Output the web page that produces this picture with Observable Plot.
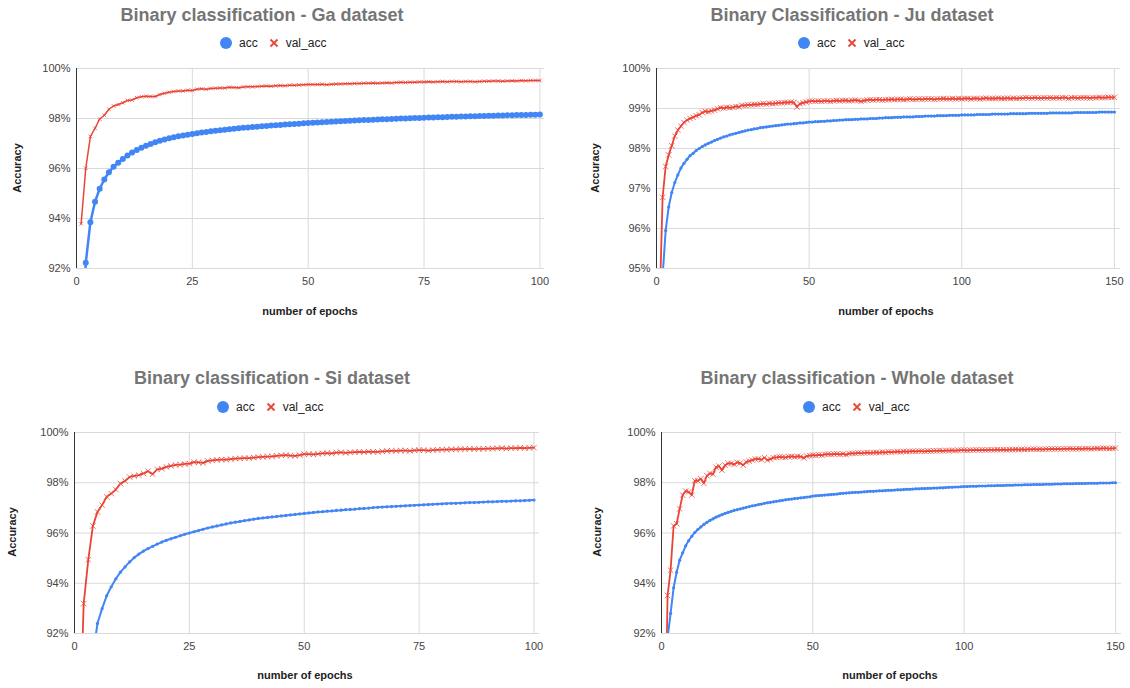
<!DOCTYPE html>
<html>
<head>
<meta charset="utf-8">
<script src="https://cdn.jsdelivr.net/npm/d3@7"></script>
<script src="https://cdn.jsdelivr.net/npm/@observablehq/plot@0.6"></script>
<style>
  html, body { margin: 0; padding: 0; background: #fff; }
  #root { position: relative; width: 1130px; height: 688px; overflow: hidden; font-family: "Liberation Sans", Arial, sans-serif; }
  .abs { position: absolute; white-space: nowrap; }
  .title { font-size: 18px; font-weight: bold; color: #757575; }
  .legend { font-size: 12px; color: #222; display: flex; align-items: center; }
  .axlabel { font-size: 11px; font-weight: bold; color: #222; }
  svg.plot { position: absolute; }
</style>
</head>
<body>
<div id="root"></div>
<script>
// ---------------- data (values in %) ----------------
const xTicks100 = [0, 25, 50, 75, 100];
const xTicks150 = [0, 50, 100, 150];
const yTicks92 = [92, 94, 96, 98, 100];
const yTicks95 = [95, 96, 97, 98, 99, 100];

const gaAcc = [88.0,92.23,93.85,94.67,95.19,95.56,95.85,96.07,96.23,96.38,
96.52,96.64,96.74,96.83,96.91,96.98,97.05,97.11,97.16,97.21,
97.25,97.29,97.32,97.35,97.38,97.41,97.44,97.46,97.49,97.51,
97.53,97.55,97.57,97.59,97.61,97.63,97.64,97.66,97.67,97.69,
97.70,97.72,97.73,97.74,97.76,97.77,97.78,97.79,97.81,97.82,
97.83,97.84,97.85,97.86,97.87,97.88,97.89,97.90,97.91,97.92,
97.93,97.94,97.94,97.95,97.96,97.97,97.97,97.98,97.99,98.00,
98.00,98.01,98.02,98.02,98.03,98.04,98.04,98.05,98.05,98.06,
98.07,98.07,98.08,98.08,98.09,98.09,98.10,98.10,98.11,98.11,
98.12,98.12,98.13,98.13,98.14,98.14,98.14,98.15,98.15,98.16];

const gaVal = [93.79,96.01,97.28,97.61,97.98,98.13,98.37,98.50,98.56,98.63,
98.72,98.74,98.83,98.87,98.89,98.88,98.88,98.96,99.01,99.05,
99.08,99.10,99.10,99.13,99.12,99.17,99.19,99.17,99.20,99.21,
99.22,99.22,99.25,99.24,99.23,99.26,99.27,99.27,99.28,99.29,
99.30,99.29,99.31,99.32,99.31,99.33,99.33,99.34,99.35,99.36,
99.36,99.36,99.37,99.35,99.37,99.38,99.38,99.39,99.39,99.40,
99.40,99.41,99.41,99.42,99.41,99.42,99.43,99.42,99.44,99.45,
99.44,99.45,99.45,99.46,99.46,99.47,99.46,99.47,99.48,99.47,
99.48,99.48,99.47,99.48,99.48,99.47,99.48,99.49,99.49,99.50,
99.50,99.49,99.50,99.51,99.50,99.52,99.51,99.52,99.52,99.52];

const juAcc = [92.5,94.8,95.95,96.54,96.90,97.15,97.34,97.51,97.63,97.73,
97.82,97.88,97.95,98.00,98.05,98.09,98.13,98.16,98.20,98.23,
98.26,98.29,98.31,98.34,98.36,98.38,98.40,98.42,98.44,98.46,
98.47,98.49,98.50,98.52,98.53,98.54,98.55,98.56,98.57,98.58,
98.59,98.60,98.61,98.61,98.62,98.63,98.64,98.64,98.65,98.66,
98.66,98.67,98.67,98.68,98.68,98.69,98.69,98.70,98.70,98.71,
98.71,98.72,98.72,98.72,98.73,98.73,98.74,98.74,98.74,98.75,
98.75,98.75,98.76,98.76,98.77,98.77,98.77,98.78,98.78,98.78,
98.79,98.79,98.79,98.79,98.80,98.80,98.80,98.81,98.81,98.81,
98.81,98.82,98.82,98.82,98.82,98.83,98.83,98.83,98.83,98.84,
98.84,98.84,98.84,98.84,98.85,98.85,98.85,98.85,98.85,98.86,
98.86,98.86,98.86,98.86,98.86,98.87,98.87,98.87,98.87,98.87,
98.87,98.88,98.88,98.88,98.88,98.88,98.88,98.88,98.89,98.89,
98.89,98.89,98.89,98.89,98.89,98.89,98.90,98.90,98.90,98.90,
98.90,98.90,98.90,98.90,98.91,98.91,98.91,98.91,98.91,98.91];

const juVal = [94.0,96.78,97.55,97.84,98.07,98.31,98.46,98.56,98.65,98.71,
98.75,98.78,98.82,98.84,98.90,98.93,98.92,98.94,98.96,98.99,
99.02,99.01,99.03,99.02,99.03,99.05,99.04,99.08,99.08,99.09,
99.09,99.10,99.10,99.11,99.12,99.11,99.13,99.12,99.13,99.14,
99.14,99.15,99.15,99.16,99.15,99.04,99.12,99.14,99.16,99.18,
99.19,99.18,99.19,99.18,99.19,99.19,99.18,99.19,99.20,99.19,
99.20,99.20,99.19,99.20,99.21,99.20,99.18,99.20,99.21,99.22,
99.21,99.22,99.22,99.21,99.22,99.22,99.23,99.22,99.23,99.23,
99.22,99.23,99.24,99.23,99.23,99.24,99.23,99.24,99.24,99.24,
99.23,99.24,99.24,99.25,99.24,99.24,99.25,99.24,99.25,99.24,
99.25,99.25,99.24,99.25,99.25,99.24,99.25,99.26,99.25,99.25,
99.25,99.26,99.25,99.25,99.26,99.25,99.26,99.25,99.26,99.26,
99.27,99.26,99.26,99.27,99.26,99.26,99.27,99.26,99.27,99.26,
99.27,99.26,99.27,99.27,99.25,99.27,99.27,99.26,99.27,99.27,
99.27,99.26,99.27,99.27,99.28,99.27,99.27,99.28,99.28,99.28];

const siAcc = [84.5,88.0,90.1,91.1,92.40,92.99,93.50,93.86,94.18,94.44,
94.65,94.85,95.02,95.16,95.28,95.38,95.47,95.56,95.64,95.71,
95.77,95.83,95.89,95.95,96.00,96.05,96.10,96.15,96.20,96.24,
96.28,96.32,96.36,96.40,96.43,96.46,96.49,96.52,96.55,96.58,
96.60,96.62,96.64,96.66,96.68,96.70,96.72,96.74,96.76,96.78,
96.80,96.82,96.84,96.85,96.87,96.88,96.90,96.91,96.93,96.94,
96.95,96.97,96.98,96.99,97.01,97.02,97.03,97.04,97.05,97.06,
97.07,97.08,97.09,97.10,97.11,97.12,97.13,97.14,97.15,97.16,
97.17,97.18,97.18,97.19,97.20,97.21,97.21,97.22,97.23,97.24,
97.24,97.25,97.26,97.26,97.27,97.28,97.28,97.29,97.30,97.31];

const siVal = [87.2,93.19,94.94,96.28,96.84,97.11,97.44,97.57,97.73,97.97,
98.07,98.23,98.27,98.30,98.37,98.46,98.34,98.53,98.56,98.63,
98.67,98.71,98.72,98.75,98.76,98.82,98.81,98.79,98.87,98.89,
98.91,98.92,98.92,98.94,98.96,98.97,98.98,98.98,99.00,99.02,
99.03,99.04,99.05,99.07,99.09,99.10,99.08,99.07,99.10,99.14,
99.14,99.13,99.15,99.17,99.18,99.17,99.20,99.21,99.19,99.21,
99.22,99.23,99.22,99.24,99.23,99.23,99.25,99.26,99.27,99.27,
99.28,99.28,99.27,99.29,99.30,99.30,99.28,99.30,99.31,99.32,
99.32,99.33,99.33,99.34,99.34,99.35,99.34,99.35,99.35,99.36,
99.36,99.37,99.38,99.36,99.38,99.38,99.39,99.38,99.39,99.40];

const wholeAcc = [89.0,91.8,92.80,93.82,94.44,94.92,95.21,95.49,95.70,95.87,
96.02,96.14,96.24,96.34,96.42,96.50,96.56,96.63,96.68,96.73,
96.78,96.82,96.86,96.90,96.93,96.96,96.99,97.02,97.05,97.08,
97.10,97.13,97.15,97.18,97.20,97.22,97.24,97.26,97.28,97.30,
97.32,97.34,97.35,97.37,97.38,97.40,97.41,97.43,97.44,97.47,
97.48,97.49,97.50,97.51,97.52,97.53,97.54,97.55,97.57,97.58,
97.59,97.60,97.61,97.62,97.62,97.63,97.64,97.65,97.66,97.66,
97.67,97.68,97.68,97.69,97.70,97.70,97.71,97.72,97.72,97.73,
97.74,97.74,97.75,97.76,97.76,97.77,97.77,97.78,97.78,97.79,
97.79,97.80,97.80,97.81,97.82,97.82,97.83,97.83,97.84,97.85,
97.85,97.86,97.86,97.86,97.87,97.87,97.87,97.88,97.88,97.88,
97.89,97.89,97.89,97.90,97.90,97.90,97.91,97.91,97.91,97.92,
97.92,97.92,97.93,97.93,97.93,97.93,97.94,97.94,97.94,97.95,
97.95,97.95,97.96,97.96,97.96,97.96,97.97,97.97,97.97,97.97,
97.98,97.98,97.98,97.98,97.99,97.99,97.99,97.99,98.00,98.00];

const wholeVal = [86.0,93.51,94.52,96.28,96.37,96.96,97.51,97.67,97.64,97.51,
98.08,98.08,98.16,97.98,98.28,98.37,98.34,98.62,98.66,98.50,
98.70,98.77,98.77,98.73,98.81,98.78,98.70,98.83,98.86,98.90,
98.94,98.95,98.92,99.00,98.90,98.94,99.00,99.01,99.03,99.02,
99.01,99.04,99.05,99.03,99.05,99.04,98.99,99.06,99.08,99.10,
99.09,99.11,99.10,99.13,99.14,99.13,99.14,99.15,99.13,99.15,
99.12,99.16,99.17,99.17,99.19,99.18,99.19,99.20,99.19,99.20,
99.21,99.20,99.22,99.21,99.23,99.22,99.23,99.24,99.23,99.25,
99.24,99.25,99.26,99.25,99.26,99.26,99.25,99.27,99.26,99.27,
99.27,99.28,99.27,99.28,99.28,99.29,99.28,99.29,99.30,99.30,
99.29,99.30,99.30,99.31,99.30,99.31,99.30,99.31,99.31,99.31,
99.32,99.31,99.32,99.31,99.32,99.32,99.33,99.32,99.33,99.32,
99.33,99.33,99.34,99.33,99.34,99.33,99.34,99.34,99.35,99.34,
99.35,99.34,99.35,99.35,99.36,99.35,99.35,99.36,99.35,99.36,
99.36,99.35,99.36,99.37,99.36,99.37,99.37,99.36,99.37,99.38];

const titles = ["Binary classification - Ga dataset", "Binary Classification - Ju dataset",
                "Binary classification - Si dataset", "Binary classification - Whole dataset"];
const seriesNames = ["acc", "val_acc"];

// ---------------- layout & style ----------------
const BLUE = "#4285F4", RED = "#EA4335", GRID = "#d9d9d9";
const root = document.getElementById("root");

function place(cls, text, cx, cy, rotate) {
  const d = document.createElement("div");
  d.className = "abs " + cls;
  d.textContent = text;
  d.style.left = cx + "px";
  d.style.top = cy + "px";
  d.style.transform = "translate(-50%,-50%)" + (rotate ? " rotate(-90deg)" : "");
  root.appendChild(d);
  return d;
}

function legend(x, y) {
  const d = document.createElement("div");
  d.className = "abs legend";
  d.style.left = x + "px";
  d.style.top = (y - 8) + "px";
  d.style.height = "16px";
  d.innerHTML =
    `<svg width="14" height="14" style="margin-right:6px"><circle cx="7" cy="7" r="6" fill="${BLUE}"/></svg>` +
    `<span style="margin-right:10px">${seriesNames[0]}</span>` +
    `<svg width="12" height="12" style="margin-right:6px"><path d="M2.5,2.5L9.5,9.5M9.5,2.5L2.5,9.5" stroke="${RED}" stroke-width="1.8"/></svg>` +
    `<span>${seriesNames[1]}</span>`;
  root.appendChild(d);
}

function toRows(arr) { return arr.map((v, i) => ({epoch: i + 1, value: v})); }

const panels = [
  {acc: gaAcc, val: gaVal, title: titles[0], xTicks: xTicks100, yTicks: yTicks92, xMax: 101,
   box: {left: 0, top: 50, width: 565, height: 280, ml: 76, mr: 21, mt: 18, mb: 62},
   accR: 3, accW: 2.5, valR: 1.8, valW: 1.5,
   titlePos: [262, 15], legendPos: [219, 43], yLab: [17, 168], xLab: [310, 311]},
  {acc: juAcc, val: juVal, title: titles[1], xTicks: xTicks150, yTicks: yTicks95, xMax: 152,
   box: {left: 565, top: 50, width: 565, height: 280, ml: 91, mr: 10, mt: 18, mb: 62},
   accR: 1.6, accW: 2, valR: 2.6, valW: 1.8,
   titlePos: [852, 15], legendPos: [797, 43], yLab: [595, 168], xLab: [886, 311]},
  {acc: siAcc, val: siVal, title: titles[2], xTicks: xTicks100, yTicks: yTicks92, xMax: 101.2,
   box: {left: 0, top: 414, width: 565, height: 274, ml: 74, mr: 26, mt: 18, mb: 55},
   accR: 1.6, accW: 2, valR: 2.6, valW: 1.8,
   titlePos: [272, 378], legendPos: [216, 407], yLab: [12, 532], xLab: [305, 675]},
  {acc: wholeAcc, val: wholeVal, title: titles[3], xTicks: xTicks150, yTicks: yTicks92, xMax: 152,
   box: {left: 565, top: 414, width: 565, height: 274, ml: 96, mr: 9, mt: 18, mb: 55},
   accR: 1.6, accW: 2, valR: 2.6, valW: 1.8,
   titlePos: [857, 378], legendPos: [802, 407], yLab: [597, 532], xLab: [890, 675]}
];

for (const p of panels) {
  const b = p.box;
  const accRows = toRows(p.acc), valRows = toRows(p.val);
  const yDomain = [p.yTicks[0], p.yTicks[p.yTicks.length - 1]];
  const chart = Plot.plot({
    width: b.width, height: b.height,
    marginLeft: b.ml, marginRight: b.mr, marginTop: b.mt, marginBottom: b.mb,
    style: {fontFamily: '"Liberation Sans", Arial, sans-serif', fontSize: "11px", color: "#444", background: "transparent", overflow: "visible"},
    x: {domain: [0, p.xMax], ticks: p.xTicks, tickSize: 0, tickPadding: 9, tickFormat: d => String(d), label: null},
    y: {domain: yDomain, ticks: p.yTicks, tickSize: 0, tickPadding: 6, tickFormat: d => d + "%", label: null},
    marks: [
      Plot.ruleY(p.yTicks, {stroke: GRID, strokeWidth: 1}),
      Plot.ruleX(p.xTicks.filter(t => t > 0), {stroke: GRID, strokeWidth: 1}),
      Plot.ruleX([0], {stroke: "#333", strokeWidth: 1}),
      Plot.line(valRows, {x: "epoch", y: "value", stroke: RED, strokeWidth: p.valW, clip: true}),
      Plot.dot(valRows, {x: "epoch", y: "value", symbol: "times", r: p.valR, stroke: RED, strokeWidth: 1, strokeOpacity: 0.75, clip: true}),
      Plot.line(accRows, {x: "epoch", y: "value", stroke: BLUE, strokeWidth: p.accW, clip: true}),
      Plot.dot(accRows, {x: "epoch", y: "value", r: p.accR, fill: BLUE, clip: true})
    ]
  });
  chart.classList.add("plot");
  chart.style.left = b.left + "px";
  chart.style.top = b.top + "px";
  root.appendChild(chart);

  place("title", p.title, p.titlePos[0], p.titlePos[1]);
  legend(p.legendPos[0], p.legendPos[1]);
  place("axlabel", "Accuracy", p.yLab[0], p.yLab[1], true);
  place("axlabel", "number of epochs", p.xLab[0], p.xLab[1]);
}
</script>
</body>
</html>
